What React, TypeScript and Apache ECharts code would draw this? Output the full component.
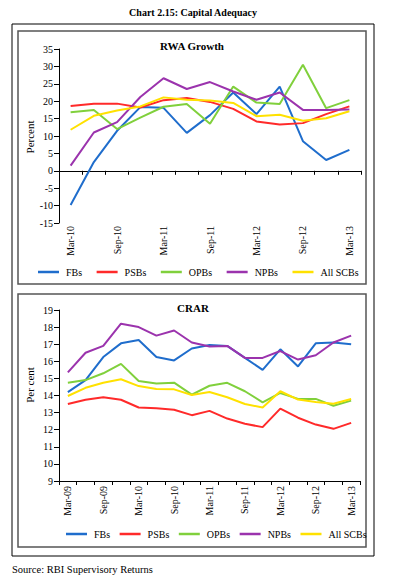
import React, { useEffect, useRef } from 'react';
import * as echarts from 'echarts';

const FONT = "'Liberation Serif', 'DejaVu Serif', serif";

const seriesNames = ['FBs', 'PSBs', 'OPBs', 'NPBs', 'All SCBs'];
const seriesColors = ['#1f6dcc', '#ff2a2a', '#80d03c', '#9b33ad', '#ffe100'];

const rwaCategories = ['Mar-10', 'Jun-10', 'Sep-10', 'Dec-10', 'Mar-11', 'Jun-11', 'Sep-11', 'Dec-11', 'Mar-12', 'Jun-12', 'Sep-12', 'Dec-12', 'Mar-13'];
const rwaFBs = [-9.8, 2.5, 11.5, 18.3, 18.1, 10.9, 16.0, 22.5, 16.3, 24.2, 8.5, 3.1, 6.0];
const rwaPSBs = [18.6, 19.3, 19.3, 18.2, 20.3, 20.9, 19.8, 17.8, 14.2, 13.3, 13.7, 16.3, 18.5];
const rwaOPBs = [16.8, 17.5, 12.0, 15.3, 18.4, 19.2, 13.5, 24.2, 19.6, 19.2, 30.5, 18.0, 20.3];
const rwaNPBs = [1.5, 11.0, 14.0, 21.2, 26.6, 23.5, 25.5, 22.8, 20.4, 22.5, 17.5, 17.5, 17.6];
const rwaAllSCBs = [11.8, 15.8, 17.3, 18.5, 21.1, 20.4, 20.2, 19.5, 15.7, 16.1, 14.4, 15.1, 17.1];

const crarCategories = ['Mar-09', 'Jun-09', 'Sep-09', 'Dec-09', 'Mar-10', 'Jun-10', 'Sep-10', 'Dec-10', 'Mar-11', 'Jun-11', 'Sep-11', 'Dec-11', 'Mar-12', 'Jun-12', 'Sep-12', 'Dec-12', 'Mar-13'];
const crarFBs = [14.2, 14.9, 16.25, 17.05, 17.25, 16.25, 16.05, 16.75, 16.95, 16.9, 16.2, 15.5, 16.7, 15.7, 17.05, 17.1, 17.0];
const crarPSBs = [13.5, 13.75, 13.9, 13.75, 13.3, 13.25, 13.17, 12.85, 13.1, 12.65, 12.35, 12.15, 13.23, 12.7, 12.3, 12.05, 12.4];
const crarOPBs = [14.75, 14.9, 15.3, 15.85, 14.85, 14.7, 14.75, 14.05, 14.57, 14.74, 14.25, 13.6, 14.15, 13.8, 13.8, 13.4, 13.7];
const crarNPBs = [15.35, 16.5, 16.9, 18.2, 18.0, 17.5, 17.8, 17.1, 16.87, 16.9, 16.2, 16.2, 16.6, 16.1, 16.35, 17.1, 17.5];
const crarAllSCBs = [13.97, 14.45, 14.75, 14.95, 14.55, 14.38, 14.36, 14.03, 14.2, 13.9, 13.5, 13.3, 14.25, 13.76, 13.62, 13.52, 13.8];

const rwaData = [rwaFBs, rwaPSBs, rwaOPBs, rwaNPBs, rwaAllSCBs];
const crarData = [crarFBs, crarPSBs, crarOPBs, crarNPBs, crarAllSCBs];

const axisText = { fontFamily: FONT, fontSize: 10, color: '#000' };

function buildOption(): any {
  const series: any[] = [];
  rwaData.forEach((d, i) => {
    series.push({
      name: seriesNames[i], type: 'line', xAxisIndex: 0, yAxisIndex: 0, data: d,
      symbol: 'none', lineStyle: { width: 2, color: seriesColors[i] }, itemStyle: { color: seriesColors[i] },
    });
  });
  crarData.forEach((d, i) => {
    series.push({
      name: seriesNames[i], type: 'line', xAxisIndex: 2, yAxisIndex: 1, data: d,
      symbol: 'none', lineStyle: { width: 2, color: seriesColors[i] }, itemStyle: { color: seriesColors[i] },
    });
  });

  const legendBase = {
    data: seriesNames, icon: 'rect', itemWidth: 21, itemHeight: 2.5, orient: 'horizontal',
    textStyle: { fontFamily: FONT, fontSize: 10, color: '#000', padding: [0, 0, 0, 2] },
  };

  return {
    animation: false,
    backgroundColor: '#fff',
    grid: [
      { left: 59, top: 49, width: 302, height: 174 },
      { left: 59, top: 310, width: 301, height: 171 },
    ],
    xAxis: [
      {
        type: 'category', gridIndex: 0, data: rwaCategories, position: 'bottom',
        axisLine: { show: false, onZero: false }, axisTick: { show: false },
        axisLabel: { ...axisText, rotate: 90, interval: 1, margin: 3 },
        splitLine: { show: false },
      },
      {
        type: 'category', gridIndex: 0, data: rwaCategories, position: 'bottom',
        axisLine: { show: true, onZero: true, lineStyle: { color: '#000', width: 1 } },
        axisTick: { show: true, interval: 0, length: 4, lineStyle: { color: '#000' } },
        axisLabel: { show: false }, splitLine: { show: false },
      },
      {
        type: 'category', gridIndex: 1, data: crarCategories, position: 'bottom',
        axisLine: { show: true, onZero: false, lineStyle: { color: '#000', width: 1 } },
        axisTick: { show: true, interval: 0, length: 4, lineStyle: { color: '#000' } },
        axisLabel: { ...axisText, rotate: 90, interval: 1, margin: 5 },
        splitLine: { show: false },
      },
    ],
    yAxis: [
      {
        type: 'value', gridIndex: 0, min: -15, max: 35, interval: 5,
        axisLine: { show: true, lineStyle: { color: '#000' } },
        axisTick: { show: true, length: 5, lineStyle: { color: '#000' } },
        axisLabel: { ...axisText, margin: 6 }, splitLine: { show: false },
      },
      {
        type: 'value', gridIndex: 1, min: 9, max: 19, interval: 1,
        axisLine: { show: true, lineStyle: { color: '#000' } },
        axisTick: { show: true, length: 5, lineStyle: { color: '#000' } },
        axisLabel: { ...axisText, margin: 6 }, splitLine: { show: false },
      },
    ],
    legend: [
      { ...legendBase, left: 33, top: 262, itemGap: 14.5 },
      { ...legendBase, left: 61, top: 524, itemGap: 9.5 },
    ],
    graphic: [
      { type: 'rect', shape: { x: 12, y: 24, width: 362, height: 532 }, style: { fill: 'none', stroke: '#000', lineWidth: 1 }, silent: true },
      { type: 'rect', shape: { x: 18, y: 31, width: 348, height: 253 }, style: { fill: 'none', stroke: '#555', lineWidth: 1.5 }, silent: true },
      { type: 'rect', shape: { x: 18, y: 294, width: 348, height: 253 }, style: { fill: 'none', stroke: '#555', lineWidth: 1.5 }, silent: true },
      { type: 'text', x: 193, y: 12, style: { text: 'Chart 2.15: Capital Adequacy', fontFamily: FONT, fontSize: 10, fontWeight: 'bold', fill: '#000', align: 'center', verticalAlign: 'middle' } },
      { type: 'text', x: 192, y: 46, style: { text: 'RWA Growth', fontFamily: FONT, fontSize: 11, fontWeight: 'bold', fill: '#000', align: 'center', verticalAlign: 'middle' } },
      { type: 'text', x: 193, y: 308, style: { text: 'CRAR', fontFamily: FONT, fontSize: 11, fontWeight: 'bold', fill: '#000', align: 'center', verticalAlign: 'middle' } },
      { type: 'text', x: 30, y: 137, rotation: Math.PI / 2, style: { text: 'Percent', fontFamily: FONT, fontSize: 11, fill: '#000', align: 'center', verticalAlign: 'middle' } },
      { type: 'text', x: 30, y: 385, rotation: Math.PI / 2, style: { text: 'Per cent', fontFamily: FONT, fontSize: 11, fill: '#000', align: 'center', verticalAlign: 'middle' } },
      { type: 'text', x: 12, y: 569, style: { text: 'Source: RBI Supervisory Returns', fontFamily: FONT, fontSize: 10.5, fill: '#000', align: 'left', verticalAlign: 'middle' } },
    ],
    series,
  };
}

export default function App() {
  const ref = useRef<HTMLDivElement>(null);
  useEffect(() => {
    if (!ref.current) return;
    const chart = echarts.init(ref.current, null, { renderer: 'svg' });
    chart.setOption(buildOption());
    return () => chart.dispose();
  }, []);
  return (
    <div
      ref={ref}
      style={{ position: 'fixed', left: 0, top: 0, width: 395, height: 585, background: '#fff' }}
    />
  );
}
